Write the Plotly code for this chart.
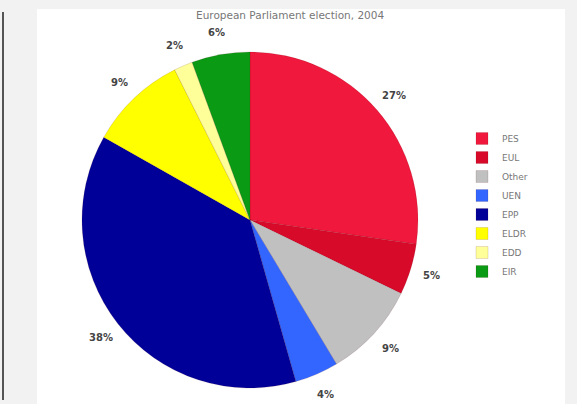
import numpy as np
import plotly.graph_objects as go

groups = ["PES", "EUL", "Other", "UEN", "EPP", "ELDR", "EDD", "EIR"]
shares = [27.3, 4.9, 9.2, 4.2, 37.6, 9.4, 1.8, 5.6]
colors = ["#f0183c", "#d80a2a", "#c0c0c0", "#3366ff", "#000099", "#ffff00", "#ffff99", "#0a9a14"]
title_text = "European Parliament election, 2004"

W, H = 577, 404
# pie geometry (pixels)
cx_px, cy_px, r_px = 250, 220, 168

fig = go.Figure()
fig.add_trace(go.Pie(
    labels=groups, values=shares, sort=False, direction="clockwise", rotation=0,
    marker=dict(colors=colors, line=dict(color="rgba(80,0,0,0.25)", width=0.5)),
    textinfo="none", hoverinfo="label+percent",
    domain=dict(x=[(cx_px - r_px) / W, (cx_px + r_px) / W],
                y=[1 - (cy_px + r_px) / H, 1 - (cy_px - r_px) / H]),
))

# percentage labels placed outside each slice at its mid angle
vals = np.array(shares, dtype=float)
frac = vals / vals.sum()
mid = np.cumsum(frac) - frac / 2
R = 190
annotations = []
for f, m in zip(frac, mid):
    th = 2 * np.pi * m
    x = (cx_px + R * np.sin(th)) / W
    y = 1 - (cy_px - R * np.cos(th)) / H
    annotations.append(dict(x=x, y=y, xref="paper", yref="paper", showarrow=False,
                            text="<b>%d%%</b>" % round(f * 100),
                            font=dict(family="DejaVu Sans", size=10, color="#444"),
                            xanchor="center", yanchor="middle"))
annotations.append(dict(x=290 / W, y=1 - 15 / H, xref="paper", yref="paper", showarrow=False,
                        text=title_text, font=dict(family="DejaVu Sans", size=10.5, color="#777"),
                        xanchor="center", yanchor="middle"))

shapes = [
    dict(type="rect", xref="paper", yref="paper", x0=37 / W, x1=565 / W, y0=0, y1=1 - 9 / H,
         fillcolor="white", line=dict(width=0), layer="below"),
    dict(type="line", xref="paper", yref="paper", x0=3 / W, x1=3 / W, y0=1 - 400 / H, y1=1 - 12 / H,
         line=dict(color="#555", width=2)),
]

fig.update_layout(
    width=W, height=H, margin=dict(l=0, r=0, t=0, b=0),
    paper_bgcolor="#f2f2f2", plot_bgcolor="white",
    showlegend=True,
    legend=dict(x=462 / W, y=1 - 205 / H, xanchor="left", yanchor="middle",
                font=dict(family="DejaVu Sans", size=9, color="#777"),
                bgcolor="rgba(0,0,0,0)", itemwidth=30, traceorder="normal"),
    annotations=annotations, shapes=shapes,
)

fig.write_html("out.html", config={"displayModeBar": False},
               post_script="document.body.style.margin='0';document.body.style.padding='0';")
